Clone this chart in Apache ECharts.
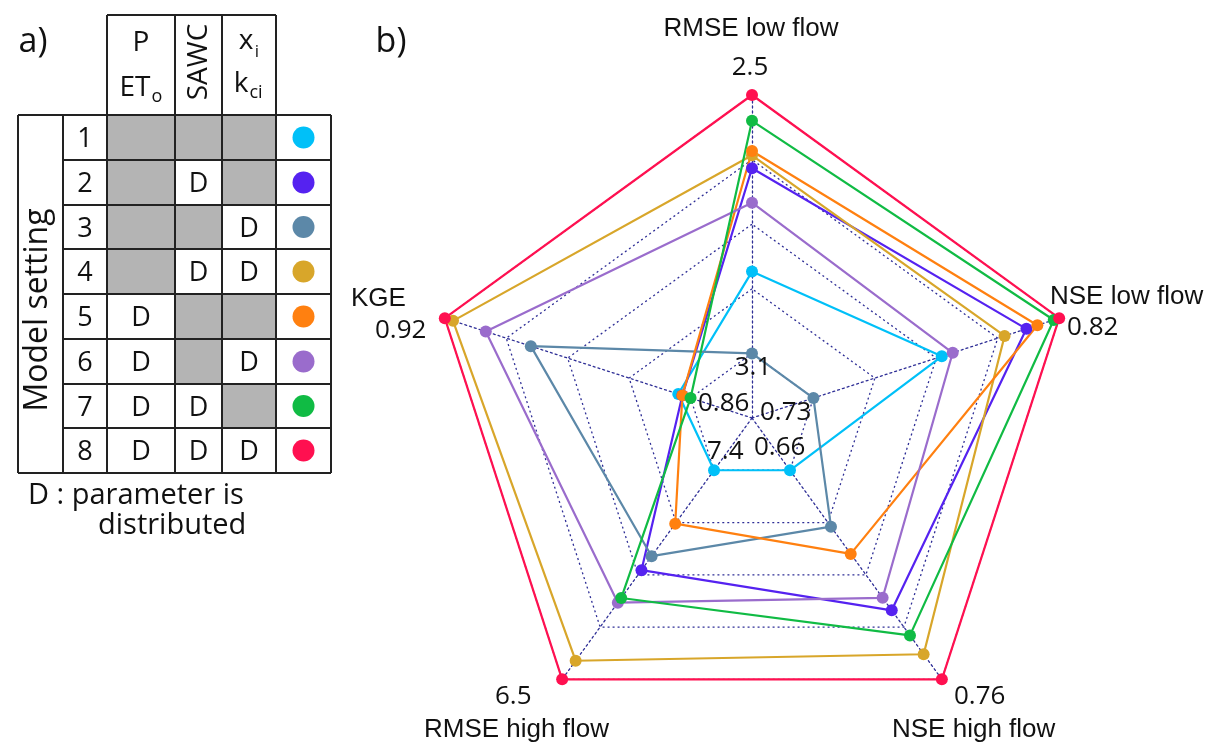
<!DOCTYPE html>
<html>
<head>
<meta charset="utf-8">
<script src="https://cdn.jsdelivr.net/npm/echarts@6/dist/echarts.min.js"></script>
<style>
html,body{margin:0;padding:0;background:#fff;}
#main{width:1209px;height:744px;}
</style>
</head>
<body>
<div id="main"></div>
<script>
// ---------- DATA ----------
const settings = ['1','2','3','4','5','6','7','8'];
const settingColors = ['#00c0f8','#5522f0','#5c88a8','#d8a62a','#ff8010','#9a6ccc','#10bb44','#ff1050'];
// 1 = parameter distributed (D), 0 = lumped (grey cell)
const distP    = [0,0,0,0,1,1,1,1];
const distSAWC = [0,1,0,1,0,0,1,1];
const distX    = [0,0,1,1,0,1,0,1];

const metricNames = ['RMSE low flow','KGE','RMSE high flow','NSE high flow','NSE low flow'];
// values per model setting 1..8
const rmseLow  = [2.91, 2.67, 3.10, 2.64, 2.63, 2.75, 2.56, 2.50];
const kge      = [0.863, 0.862, 0.899, 0.918, 0.862, 0.910, 0.860, 0.920];
const rmseHigh = [7.40, 6.97, 7.03, 6.58, 7.17, 6.83, 6.85, 6.50];
const nseHigh  = [0.660, 0.727, 0.687, 0.748, 0.700, 0.721, 0.739, 0.760];
const nseLow   = [0.777, 0.808, 0.730, 0.800, 0.812, 0.781, 0.818, 0.820];
// axis labels: inner ring value and outer value per metric
const innerLabels = ['3.1','0.86','7.4','0.66','0.73'];
const outerLabels = ['2.5','0.92','6.5','0.76','0.82'];
const innerVals = [3.1, 0.86, 7.4, 0.66, 0.73];
const outerVals = [2.5, 0.92, 6.5, 0.76, 0.82];
// RMSE axes: lower is better -> drawn reversed (negated)
const reversed = [true, false, true, false, false];

// ---------- BUILD ----------
const FONT = '"Open Sans", "Noto Sans", sans-serif';
const FONT2 = '"Liberation Sans", Arial, sans-serif';
const metricData = [rmseLow, kge, rmseHigh, nseHigh, nseLow];
const sgn = i => reversed[i] ? -1 : 1;
// inner label sits on the first ring (1/5 of radius)
const indicators = metricNames.map((n, i) => {
  const a = sgn(i) * innerVals[i], b = sgn(i) * outerVals[i];
  return { name: n, min: a - (b - a) / 4, max: b };
});
const radarData = settings.map((s, k) => ({
  name: 'Model setting ' + s,
  value: metricData.map((arr, i) => sgn(i) * arr[k]),
  symbol: 'circle',
  symbolSize: 12,
  itemStyle: { color: settingColors[k] },
  lineStyle: { color: settingColors[k], width: 2.2 }
}));

const graphics = [];
const txt = (text, x, y, size, align, vAlign, extra, font) => {
  const o = {
    type: 'text', x: x, y: y, z: 100,
    style: { text: text, fontSize: size, fontFamily: font || FONT, fill: '#111',
      align: align || 'center', verticalAlign: vAlign || 'middle',
      textAlign: align || 'center', textVerticalAlign: vAlign || 'middle' }
  };
  if (extra) Object.assign(o, extra);
  graphics.push(o);
};
const line = (x1, y1, x2, y2) => graphics.push({
  type: 'line', z: 50, shape: { x1, y1, x2, y2 }, style: { stroke: '#222', lineWidth: 2 }
});

// table geometry
const colX = [18, 63, 107, 175, 222, 276, 331];
const rowY = [115, 160, 205, 249, 294, 339, 384, 428, 473];
const headTop = 15;
const distCols = [distP, distSAWC, distX];
settings.forEach((s, r) => {
  const cy = (rowY[r] + rowY[r + 1]) / 2;
  distCols.forEach((col, c) => {
    if (!col[r]) {
      graphics.push({ type: 'rect', z: 40,
        shape: { x: colX[2 + c], y: rowY[r], width: colX[3 + c] - colX[2 + c], height: rowY[r + 1] - rowY[r] },
        style: { fill: '#b4b4b4' } });
    } else {
      txt('D', (colX[2 + c] + colX[3 + c]) / 2, cy + 2, 27);
    }
  });
  txt(s, (colX[1] + colX[2]) / 2, cy + 2, 27);
  graphics.push({ type: 'circle', z: 60,
    shape: { cx: (colX[5] + colX[6]) / 2, cy: cy, r: 11 },
    style: { fill: settingColors[r] } });
});
line(colX[2], headTop, colX[5], headTop);
[2, 3, 4, 5].forEach(c => line(colX[c], headTop, colX[c], rowY[0]));
line(colX[0], rowY[0], colX[6], rowY[0]);
line(colX[0], rowY[8], colX[6], rowY[8]);
for (let r = 1; r < 8; r++) line(colX[1], rowY[r], colX[6], rowY[r]);
colX.forEach(x => line(x, rowY[0], x, rowY[8]));
// header
txt('P', 141, 43, 28);
txt('ET', 135, 88, 28);
txt('o', 157, 97, 18);
txt('SAWC', 199, 62, 28, 'center', 'middle', { rotation: Math.PI / 2 });
txt('x', 246, 41, 28);
txt('i', 257, 52, 17);
txt('k', 241, 84, 28);
txt('ci', 256, 93, 18);
txt('Model setting', 38, 310, 32, 'center', 'middle', { rotation: Math.PI / 2 });
txt('a)', 33, 42, 34);
txt('b)', 391, 42, 34);
txt('D : parameter is', 28, 496, 29, 'left');
txt('distributed', 98, 526, 29, 'left');

// radar labels
txt(metricNames[0], 751, 29, 26, 'center', 'middle', null, FONT2);
txt(outerLabels[0], 750, 68, 26);
txt(metricNames[4], 1050, 297, 26, 'left', 'middle', null, FONT2);
txt(outerLabels[4], 1067, 328, 26, 'left');
txt(metricNames[1], 351, 299, 26, 'left', 'middle', null, FONT2);
txt(outerLabels[1], 375, 331, 26, 'left');
txt(outerLabels[2], 495, 697, 26, 'left');
txt(metricNames[2], 424, 730, 26, 'left', 'middle', null, FONT2);
txt(outerLabels[3], 954, 697, 26, 'left');
txt(metricNames[3], 892, 730, 26, 'left', 'middle', null, FONT2);
// inner ring labels
txt(innerLabels[0], 753, 368, 26);
txt(innerLabels[1], 698, 404, 26, 'left');
txt(innerLabels[4], 760, 413, 26, 'left');
txt(innerLabels[2], 707, 452, 26, 'left');
txt(innerLabels[3], 754, 448, 26, 'left');

const gridStyle = { color: '#2e2e96', type: [2, 3], width: 1.3 };
const chart = echarts.init(document.getElementById('main'), null, { renderer: 'canvas' });
chart.setOption({
  animation: false,
  backgroundColor: '#fff',
  radar: {
    center: [752, 418],
    radius: 323,
    startAngle: 90,
    splitNumber: 5,
    shape: 'polygon',
    indicator: indicators,
    axisName: { show: false },
    axisLine: { lineStyle: gridStyle },
    splitLine: { lineStyle: gridStyle },
    splitArea: { show: false },
    axisTick: { show: false },
    axisLabel: { show: false }
  },
  series: [{
    type: 'radar',
    z: 10,
    data: radarData
  }],
  graphic: { elements: graphics }
});
</script>
</body>
</html>
